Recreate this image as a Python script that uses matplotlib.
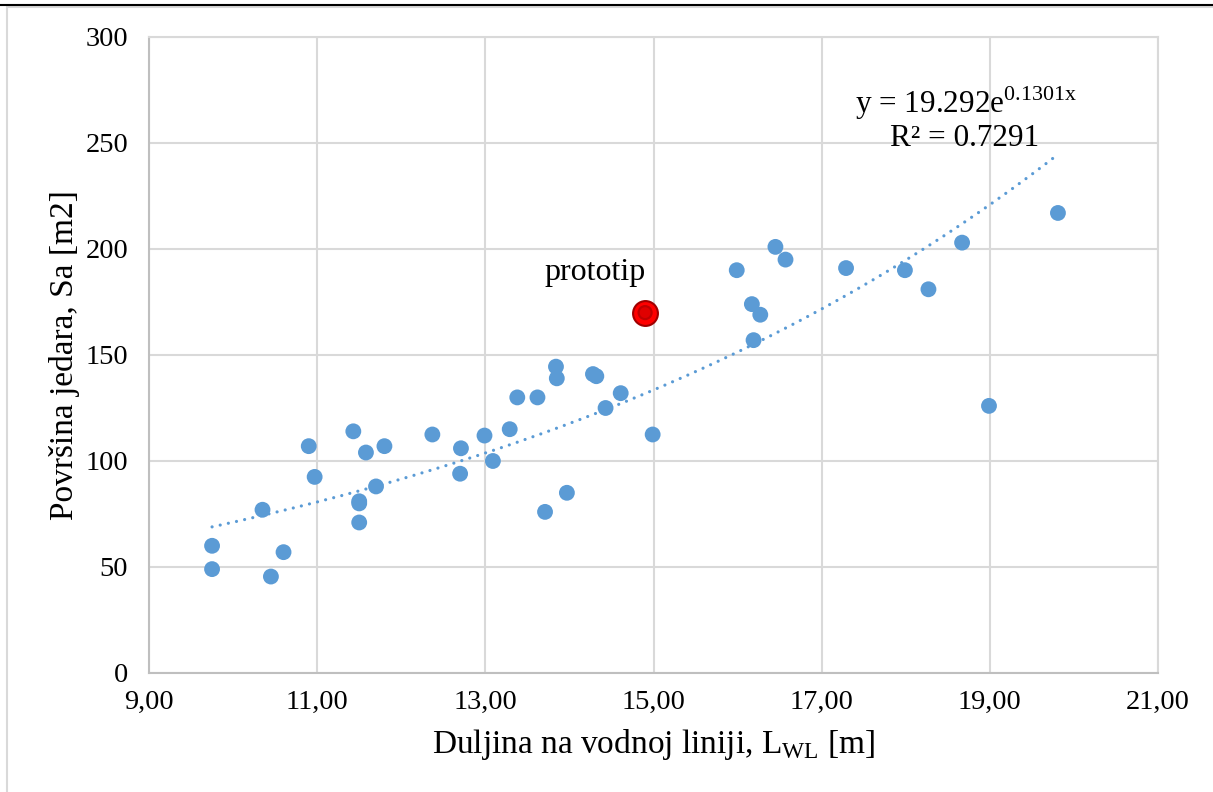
import numpy as np
import matplotlib
matplotlib.use("Agg")
import matplotlib.pyplot as plt
from matplotlib.lines import Line2D
from matplotlib.patches import Rectangle

plt.rcParams['font.family'] = ['Liberation Serif', 'DejaVu Serif']
plt.rcParams['mathtext.fontset'] = 'custom'
plt.rcParams['mathtext.rm'] = 'Liberation Serif'

# Data
lwl = [9.75, 9.75, 10.35, 10.45, 10.6, 10.9, 10.97, 11.43, 11.5, 11.5, 11.5,
       11.58, 11.7, 11.8, 12.37, 12.71, 12.7, 12.99, 13.09, 13.29, 13.38, 13.62,
       13.71, 13.84, 13.85, 13.97, 14.28, 14.32, 14.43, 14.61, 14.99,
       15.99, 16.17, 16.19, 16.27, 16.45, 16.57, 17.29, 17.99, 18.27, 18.67,
       18.99, 19.81]
sa = [60, 49, 77, 45.5, 57, 107, 92.5, 114, 81, 80, 71,
      104, 88, 107, 112.5, 106, 94, 112, 100, 115, 130, 130,
      76, 144.5, 139, 85, 141, 140, 125, 132, 112.5,
      190, 174, 157, 169, 201, 195, 191, 190, 181, 203,
      126, 217]
proto_x = [14.9]
proto_y = [170]
fit_label = 'y = 19.292e$^{\\mathregular{0.1301x}}$'
r2_label = 'R² = 0.7291'

x_ticks = [9, 11, 13, 15, 17, 19, 21]
x_ticklabels = ["9,00", "11,00", "13,00", "15,00", "17,00", "19,00", "21,00"]
y_ticks = [0, 50, 100, 150, 200, 250, 300]

W, H = 1213, 792
fig = plt.figure(figsize=(W / 100, H / 100), dpi=100)
ax = fig.add_axes([149 / W, 1 - 673 / H, (1158 - 149) / W, (673 - 37) / H])

grid_c = '#d9d9d9'
ax.set_xlim(9, 21)
ax.set_ylim(0, 300)
ax.set_xticks(x_ticks)
ax.set_xticklabels(x_ticklabels)
ax.set_yticks(y_ticks)
ax.grid(True, color=grid_c, linewidth=1.5, zorder=0)
ax.set_axisbelow(True)
for s in ['top', 'right']:
    ax.spines[s].set_color(grid_c)
    ax.spines[s].set_linewidth(1.5)
for s in ['left', 'bottom']:
    ax.spines[s].set_color('#bfbfbf')
    ax.spines[s].set_linewidth(1.5)
ax.tick_params(length=0, labelsize=20.5, colors='black')
ax.tick_params(axis='y', pad=15)
ax.tick_params(axis='x', pad=12)

# Exponential trend line (least squares on ln y)
b, ln_a = np.polyfit(lwl, np.log(sa), 1)
xt = np.linspace(min(lwl), max(lwl), 200)
ax.plot(xt, np.exp(ln_a) * np.exp(b * xt), color='#5B9BD5', linewidth=2.3,
        dashes=(0.01, 2.6), dash_capstyle='round', zorder=2)

ax.scatter(lwl, sa, s=130, color='#5B9BD5', edgecolors='none', zorder=3)

# prototype
ax.scatter(proto_x, proto_y, s=320, color='#ff0000', edgecolors='#a00000', linewidths=1.5, zorder=4)
ax.scatter(proto_x, proto_y, s=120, color='#c00000', edgecolors='none', zorder=5)
ax.scatter(proto_x, proto_y, s=60, color='#e00000', edgecolors='none', zorder=6)
ax.text(14.30, 189, 'prototip', fontsize=23, ha='center', va='center')

ax.text(18.72, 269, fit_label, fontsize=22.5, ha='center', va='center')
ax.text(18.70, 252, r2_label, fontsize=22.5, ha='center', va='center')

ax.set_xlabel(r'Duljina na vodnoj liniji, L$_{\mathregular{WL}}$ [m]', fontsize=24, labelpad=9)
ax.set_ylabel('Površina jedara, Sa [m2]', fontsize=24, labelpad=4)

# page elements
fig.add_artist(Rectangle((7 / W, -0.1), 1.2, 1 - 7 / H + 0.1, transform=fig.transFigure,
                         fill=False, edgecolor='#d9d9d9', linewidth=1.5))
fig.add_artist(Line2D([0, 1], [1 - 5 / H, 1 - 5 / H], transform=fig.transFigure,
                      color='black', linewidth=1.5))

fig.savefig('out.png', dpi=100)
